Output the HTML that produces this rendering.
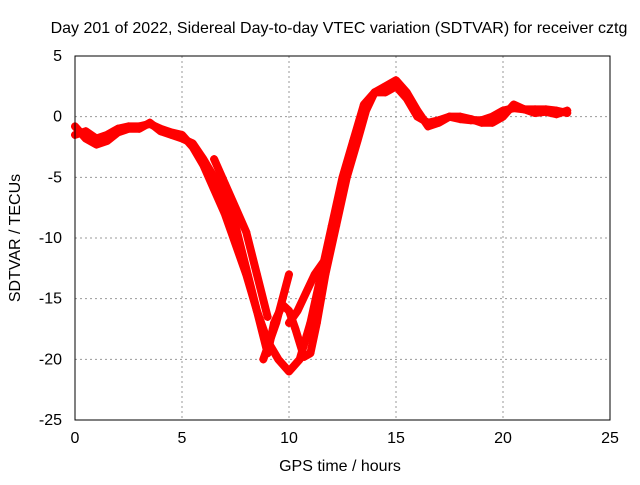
<!DOCTYPE html>
<html><head><meta charset="utf-8"><style>
body{margin:0;background:#fff}
svg{font-family:"Liberation Sans",sans-serif;font-size:16px}
</style></head><body>
<svg id="c" width="640" height="480">
<text x="339" y="33" text-anchor="middle">Day 201 of 2022, Sidereal Day-to-day VTEC variation (SDTVAR) for receiver cztg</text>
<text x="340" y="471" text-anchor="middle">GPS time / hours</text>
<text x="20" y="238" text-anchor="middle" transform="rotate(-90 20 238)">SDTVAR / TECUs</text>
<g id="grid"></g><g id="marks"></g>
<rect x="75" y="56" width="535" height="364" fill="none" stroke="#000"/>
</svg>
<script>
const xTicks=[0,5,10,15,20,25];
const yTicks=[5,0,-5,-10,-15,-20,-25];
const traceA=[[0,-1.5],[0.5,-1.2],[1,-1.8],[1.5,-1.5],[2,-1],[2.5,-0.8],[3,-0.8],[3.5,-0.6],[4,-1],[4.5,-1.3],[5,-1.5],[5.5,-2.5],[6,-4],[6.5,-6],[7,-8],[7.5,-10.5],[8,-13],[8.5,-16],[9,-18.5],[9.5,-20],[10,-21],[10.5,-20],[11,-17],[11.5,-13],[12,-9],[12.5,-5],[13,-2],[13.5,1],[14,2],[14.5,2.5],[15,3],[15.5,2],[16,0.5],[16.5,-0.8],[17,-0.5],[17.5,0],[18,-0.2],[18.5,-0.3],[19,-0.3],[19.5,0],[20,0.5],[20.5,0.7],[21,0.6],[21.5,0.6],[22,0.6],[22.5,0.5],[23,0.3]];
const traceB=[[0,-0.8],[0.5,-1.8],[1,-2.3],[1.5,-2],[2,-1.3],[2.5,-1],[3,-1],[3.5,-0.5],[4,-1.2],[4.5,-1.5],[5,-1.8],[5.5,-2.2],[6,-3.5],[6.5,-5],[7,-7],[7.5,-9],[8,-12.5],[8.5,-16],[9,-19.5],[9.3,-17],[9.7,-15.5],[10,-16],[10.3,-17.5],[10.7,-19.8],[11,-19.5],[11.3,-17],[11.7,-13],[12.2,-9],[12.7,-5],[13.2,-2],[13.6,0.5],[14,2],[14.5,2],[15,2.5],[15.5,1.5],[16,0],[16.5,-0.5],[17,-0.3],[17.5,0],[18,0],[18.5,-0.2],[19,-0.5],[19.5,-0.5],[20,0],[20.5,1],[21,0.6],[21.5,0.3],[22,0.4],[22.5,0.2],[23,0.5]];
const traceC=[[8.8,-20],[9.1,-18.5],[9.4,-17],[9.7,-15],[10,-13]];
const traceD=[[10,-17],[10.4,-16],[10.8,-14.5],[11.2,-13],[11.6,-12]];
const traceE=[[6.5,-3.5],[7,-5.5],[7.5,-7.5],[8,-9.5],[8.5,-13],[9,-16.5]];
const NS="http://www.w3.org/2000/svg";
const X=h=>75+h*535/25, Y=v=>56+(5-v)*364/30;
const grid=document.getElementById('grid'), marks=document.getElementById('marks');
function mk(t,a,p){const e=document.createElementNS(NS,t);for(const k in a)e.setAttribute(k,a[k]);p.appendChild(e);return e;}
xTicks.forEach(t=>{
  if(t>0&&t<25){const l=mk('line',{x1:X(t),x2:X(t),y1:56,y2:420,stroke:'#999','stroke-dasharray':'2,3'},grid);
  
  }
  const s=mk('text',{x:X(t),y:443,'text-anchor':'middle'},grid);s.textContent=t;
  
  
});
yTicks.forEach(t=>{
  if(t<5&&t>-25){const l=mk('line',{x1:75,x2:610,y1:Y(t),y2:Y(t),stroke:'#999','stroke-dasharray':'2,3'},grid);
  
  }
  const s=mk('text',{x:62,y:Y(t)+5,'text-anchor':'end'},grid);s.textContent=t;
  
  
});
[traceA,traceB,traceC,traceD,traceE].forEach((tr,i)=>{
  const p=mk('polyline',{points:tr.map(d=>X(d[0])+','+Y(d[1])).join(' '),fill:'none',stroke:'#f00','stroke-width':8,'stroke-linejoin':'round','stroke-linecap':'round'},marks);
  
  
  tr.forEach(d=>{
    const m=mk('path',{d:`M${X(d[0])-4},${Y(d[1])}h8M${X(d[0])},${Y(d[1])-4}v8`,stroke:'#f00','stroke-width':1.5},marks);
    
    
  });
});
</script>
</body></html>
